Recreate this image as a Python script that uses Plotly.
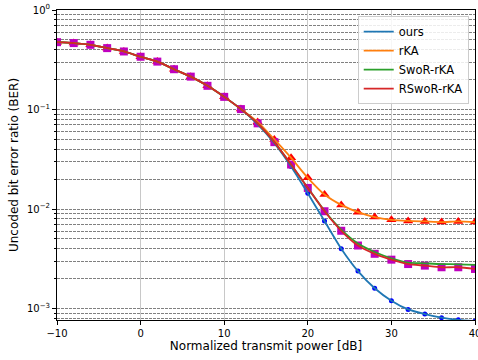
import plotly.graph_objects as go

x_db = [-10, -8, -6, -4, -2, 0, 2, 4, 6, 8, 10, 12, 14, 16, 18, 20, 22, 24, 26, 28, 30, 32, 34, 36, 38, 40]
common = [0.475, 0.465, 0.447, 0.414, 0.383, 0.339, 0.303, 0.254, 0.214, 0.173, 0.134, 0.101]
ours = common + [0.071, 0.046, 0.0268, 0.0144, 0.00757, 0.0040, 0.00238, 0.0016, 0.0012, 0.00098, 0.00088, 0.00081, 0.00077, 0.00075]
rka = common + [0.075, 0.050, 0.0327, 0.0206, 0.0140, 0.0110, 0.0093, 0.0083, 0.0078, 0.0076, 0.0075, 0.0074, 0.0075, 0.0074]
swor = common + [0.0726, 0.047, 0.028, 0.0163, 0.0096, 0.0062, 0.0045, 0.0037, 0.0032, 0.0029, 0.00285, 0.0028, 0.00278, 0.00275]
rswor = common + [0.0726, 0.047, 0.028, 0.0163, 0.0095, 0.00605, 0.0043, 0.00355, 0.0031, 0.0028, 0.0027, 0.0026, 0.0026, 0.0025]

names = ["ours", "rKA", "SwoR-rKA", "RSwoR-rKA"]
line_colors = ["#1f77b4", "#ff7f0e", "#2ca02c", "#d62728"]
x_ticks = [-10, 0, 10, 20, 30, 40]
x_ticktext = ["\u221210", "0", "10", "20", "30", "40"]

fig = go.Figure()
# markers (drawn beneath lines)
fig.add_trace(go.Scatter(x=x_db, y=ours, mode="markers", showlegend=False,
                         marker=dict(symbol="circle", size=5, color="#0000ff", line=dict(width=0))))
fig.add_trace(go.Scatter(x=x_db, y=rka, mode="markers", showlegend=False,
                         marker=dict(symbol="triangle-up", size=9, color="#ff0000", line=dict(width=0))))
fig.add_trace(go.Scatter(x=x_db, y=rswor, mode="markers", showlegend=False,
                         marker=dict(symbol="square", size=8, color="#bf00bf", line=dict(width=0))))

for name, ys, c in zip(names, [ours, rka, swor, rswor], line_colors):
    fig.add_trace(go.Scatter(x=x_db, y=ys, mode="lines", name=name,
                             line=dict(color=c, width=1.8, shape="spline", smoothing=0.7)))

major = [1e-3, 1e-2, 1e-1, 1.0]
major_text = ["10<sup>\u22123</sup>", "10<sup>\u22122</sup>", "10<sup>\u22121</sup>", "10<sup>0</sup>"]
minor = [m * 10 ** k for k in [-4, -3, -2, -1] for m in range(2, 10)]

fig.update_layout(
    width=478, height=360,
    margin=dict(l=57, r=3, t=10, b=40, autoexpand=False),
    paper_bgcolor="white", plot_bgcolor="white",
    font=dict(family="DejaVu Sans", size=10, color="black"),
    legend=dict(x=0.985, y=0.98, xanchor="right", yanchor="top",
                bgcolor="rgba(255,255,255,0.85)", bordercolor="#cccccc", borderwidth=1,
                font=dict(size=11.5), itemwidth=30, tracegroupgap=0),
    xaxis=dict(range=[-10, 40], tickvals=x_ticks, ticktext=x_ticktext,
               ticklabeloverflow="allow", automargin=False,
               showgrid=True, gridcolor="#c8c8c8", gridwidth=1, zeroline=False,
               showline=True, linecolor="black", linewidth=1, mirror=True,
               ticks="outside", ticklen=4, tickcolor="black",
               title=dict(text="Normalized transmit power [dB]", font=dict(size=12), standoff=3)),
    yaxis=dict(type="log", range=[-3.115, 0], tickvals=major, ticktext=major_text,
               automargin=False,
               showgrid=True, gridcolor="#808080", gridwidth=0.7, griddash="3px,1px",
               zeroline=False,
               showline=True, linecolor="black", linewidth=1, mirror=True,
               ticks="outside", ticklen=4, tickcolor="black",
               minor=dict(tickvals=minor, ticks="outside", ticklen=2, tickcolor="black",
                          showgrid=True, gridcolor="#808080", gridwidth=0.7, griddash="3px,1px"),
               title=dict(text="Uncoded bit error ratio (BER)", font=dict(size=12), standoff=5)),
)

fig.write_html("out.html")
